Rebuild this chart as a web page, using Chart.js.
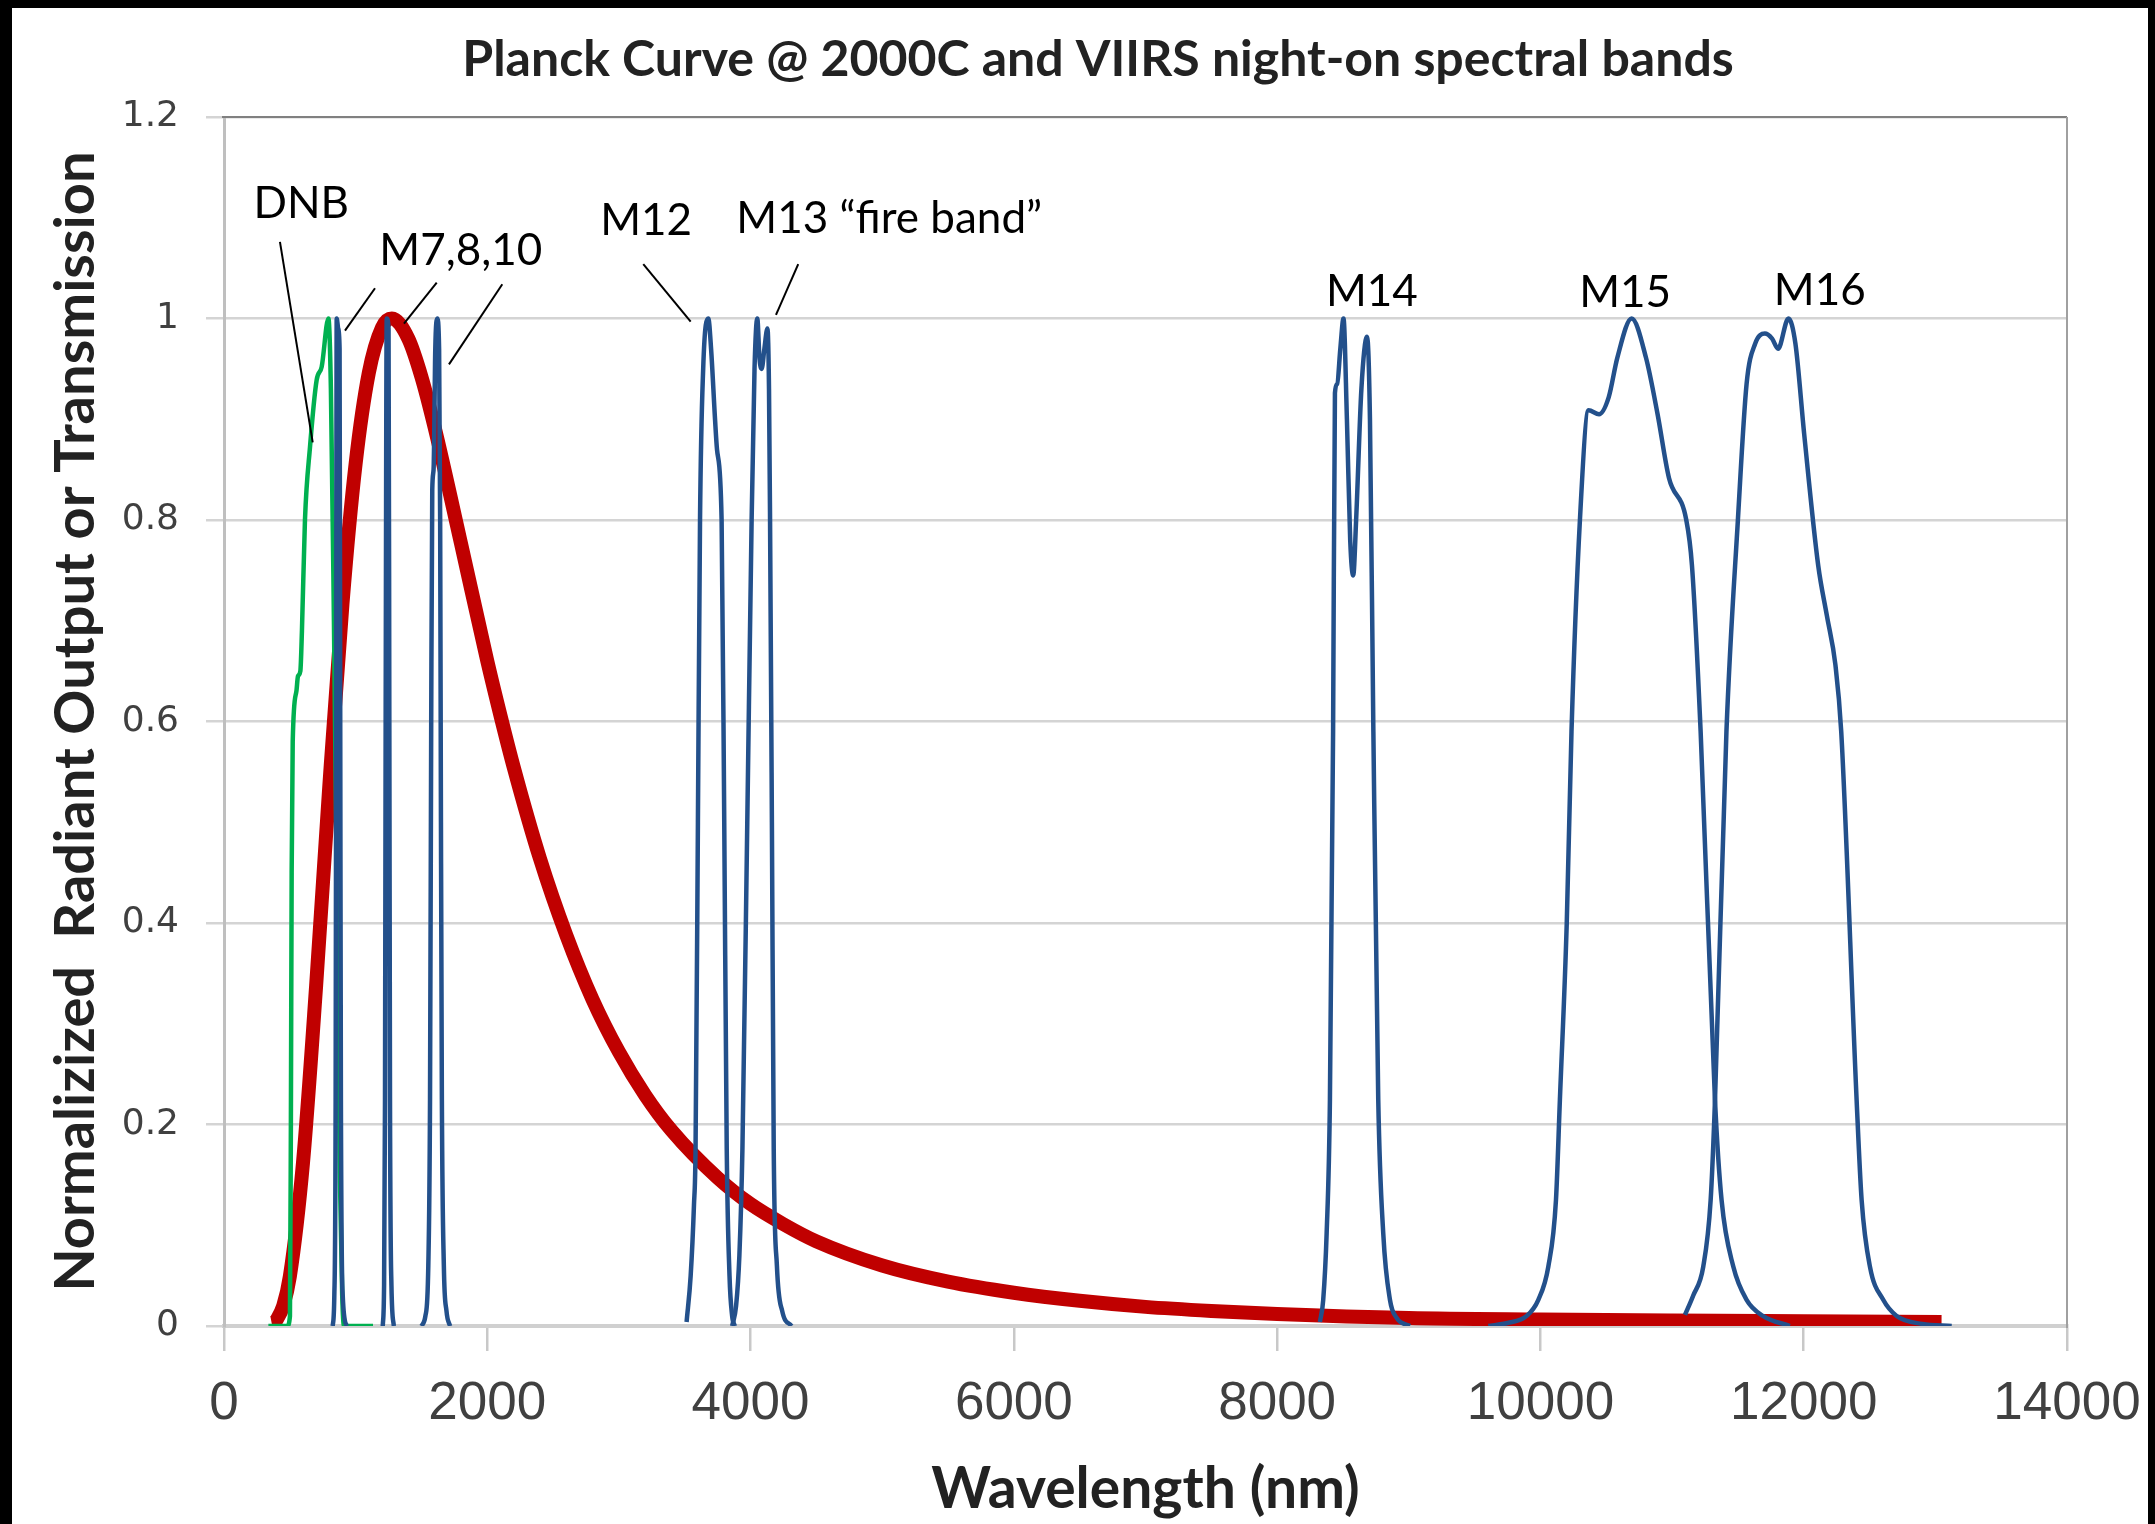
<!DOCTYPE html>
<html lang="en">
  <head>
    <meta charset="UTF-8" />
    <title>Planck Curve @ 2000C and VIIRS night-on spectral bands</title>
    <style>
      html, body { margin: 0; padding: 0; background: #fff; }
    </style>
  </head>
  <body>
    <canvas id="myChart" width="2155" height="1524"></canvas>
    <script src="https://cdn.jsdelivr.net/npm/chart.js"></script>
    <script>
        // values (wavelength in nm, normalized output / transmission)
        const planckWl  = [362, 380, 400, 450, 500, 600, 700, 800, 900, 1000, 1100, 1200, 1275, 1400, 1500, 1600, 1800, 2000, 2100, 2200, 2400, 2600, 2800, 3000, 3200, 3400, 3750, 4000, 4250, 4500, 5000, 5500, 6000, 6500, 7000, 7500, 8000, 9000, 10000, 11000, 12000, 13047];
        const planckVal = [0.003, 0.0035, 0.0063, 0.02, 0.049, 0.162, 0.338, 0.536, 0.717, 0.856, 0.946, 0.991, 1.0, 0.98, 0.942, 0.892, 0.777, 0.66, 0.606, 0.555, 0.464, 0.388, 0.324, 0.272, 0.229, 0.194, 0.147, 0.121, 0.101, 0.084, 0.06, 0.044, 0.033, 0.025, 0.019, 0.015, 0.012, 0.008, 0.0065, 0.0055, 0.0048, 0.004];

        const dnbWl  = [337, 480, 501, 508, 514, 522, 550, 562, 580, 592, 615, 653, 704, 742, 793, 812, 835, 860, 880, 898, 912, 1132];
        const dnbVal = [0, 0, 0.01, 0.2, 0.45, 0.58, 0.63, 0.645, 0.65, 0.69, 0.8, 0.872, 0.939, 0.952, 1.0, 0.93, 0.7, 0.4, 0.15, 0.03, 0, 0];

        const m7Wl  = [826, 838, 848, 852, 856, 868, 878, 883, 888, 902, 932];
        const m7Val = [0, 0.03, 0.225, 0.6, 1.0, 0.99, 0.97, 0.6, 0.225, 0.03, 0];

        const m8Wl  = [1206, 1216, 1223, 1228, 1236, 1250, 1256, 1261, 1272, 1290];
        const m8Val = [0, 0.04, 0.225, 0.6, 1.0, 0.99, 0.6, 0.225, 0.04, 0];

        const m10Wl  = [1500, 1530, 1552, 1565, 1574, 1582, 1592, 1605, 1620, 1634, 1642, 1648, 1655, 1670, 1690, 1717];
        const m10Val = [0, 0.01, 0.06, 0.225, 0.6, 0.83, 0.85, 0.97, 1.0, 0.97, 0.8, 0.5, 0.225, 0.06, 0.015, 0];

        const m12Wl  = [3514, 3545, 3570, 3582, 3600, 3616, 3640, 3679, 3700, 3730, 3745, 3780, 3800, 3819, 3840, 3860, 3880];
        const m12Val = [0.004, 0.05, 0.12, 0.175, 0.5, 0.8, 0.95, 1.0, 0.97, 0.9, 0.87, 0.8, 0.5, 0.175, 0.05, 0.01, 0];

        const m13Wl  = [3860, 3890, 3915, 3938, 3975, 4008, 4030, 4051, 4068, 4084, 4105, 4128, 4140, 4148, 4162, 4176, 4200, 4240, 4311];
        const m13Val = [0, 0.02, 0.07, 0.175, 0.5, 0.8, 0.95, 1.0, 0.96, 0.95, 0.97, 0.99, 0.93, 0.8, 0.5, 0.175, 0.06, 0.015, 0];

        const m14Wl  = [8325, 8350, 8376, 8401, 8425, 8439, 8456, 8480, 8504, 8530, 8555, 8578, 8600, 8640, 8683, 8705, 8731, 8768, 8806, 8857, 8908, 9009];
        const m14Val = [0.004, 0.026, 0.092, 0.225, 0.59, 0.926, 0.935, 0.97, 1.0, 0.9, 0.78, 0.745, 0.8, 0.93, 0.982, 0.9, 0.59, 0.225, 0.092, 0.026, 0.008, 0];

        const m15Wl  = [9604, 9750, 9896, 9984, 10060, 10118, 10148, 10200, 10236, 10300, 10366, 10445, 10519, 10584, 10693, 10802, 10890, 10976, 11108, 11151, 11217, 11326, 11376, 11465, 11566, 11690, 11895];
        const m15Val = [0, 0.003, 0.01, 0.026, 0.059, 0.125, 0.225, 0.4, 0.59, 0.8, 0.909, 0.905, 0.922, 0.961, 1.0, 0.961, 0.905, 0.842, 0.8, 0.755, 0.59, 0.224, 0.125, 0.059, 0.026, 0.01, 0];

        const m16Wl  = [11098, 11160, 11237, 11293, 11326, 11413, 11500, 11566, 11631, 11705, 11760, 11805, 11884, 11937, 12003, 12110, 12176, 12241, 12285, 12402, 12440, 12503, 12604, 12706, 12900, 13124];
        const m16Val = [0.011, 0.03, 0.059, 0.125, 0.224, 0.59, 0.8, 0.935, 0.975, 0.985, 0.98, 0.97, 1.0, 0.975, 0.886, 0.755, 0.705, 0.656, 0.59, 0.224, 0.125, 0.059, 0.026, 0.01, 0.002, 0];

        const xTickLabels = ["0", "2000", "4000", "6000", "8000", "10000", "12000", "14000"];
        const yTickLabels = ["0", "0.2", "0.4", "0.6", "0.8", "1", "1.2"];

        const chartTitle = "Planck Curve @ 2000C and VIIRS night-on spectral bands";

        // band names, placed in data space (x = centre wavelength, y = baseline value)
        const bandLabels = [
            {text: "DNB", x: 587, y: 1.0995},
            {text: "M7,8,10", x: 1799, y: 1.0531},
            {text: "M12", x: 3207, y: 1.0829},
            {text: "M13 \u201cfire band\u201d", x: 5053, y: 1.0846},
            {text: "M14", x: 8720, y: 1.0124},
            {text: "M15", x: 10643, y: 1.0117},
            {text: "M16", x: 12122, y: 1.0134}
        ];
        // leader lines from the names to the curves
        const leaderLines = [
            [425, 1.076, 674, 0.877],
            [1147, 1.030, 919, 0.988],
            [1616, 1.0355, 1367, 0.995],
            [2114, 1.034, 1709, 0.9545],
            [3185, 1.054, 3545, 0.997],
            [4362, 1.054, 4193, 1.0035]
        ];

        const BLUE = "#23508b";
        const RED = "#c00000";
        const GREEN = "#00b050";
        const titleFont = "Lato, 'Open Sans', sans-serif";

        function pts(xs, ys) {
            return xs.map((x, i) => ({x: x, y: ys[i]}));
        }

        function lineSet(label, xs, ys, color, width) {
            return {
                label: label,
                data: pts(xs, ys),
                borderColor: color,
                borderWidth: width,
                pointRadius: 0,
                fill: false,
                cubicInterpolationMode: "monotone",
                borderCapStyle: "butt",
                borderJoinStyle: "round"
            };
        }

        // dataset 0 is drawn on top: blue bands, then green DNB, red Planck curve underneath
        const datasets = [
            lineSet("M7", m7Wl, m7Val, BLUE, 4.5),
            lineSet("M8", m8Wl, m8Val, BLUE, 4.5),
            lineSet("M10", m10Wl, m10Val, BLUE, 4.5),
            lineSet("M12", m12Wl, m12Val, BLUE, 4.5),
            lineSet("M13", m13Wl, m13Val, BLUE, 4.5),
            lineSet("M14", m14Wl, m14Val, BLUE, 4.5),
            lineSet("M15", m15Wl, m15Val, BLUE, 4.5),
            lineSet("M16", m16Wl, m16Val, BLUE, 4.5),
            lineSet("DNB", dnbWl, dnbVal, GREEN, 4.5),
            lineSet("Planck 2000C", planckWl, planckVal, RED, 14)
        ];

        // black edges of the slide, the title, and the top/right plot border
        const frame = {
            id: "frame",
            beforeDraw(chart) {
                const {ctx, width, height} = chart;
                ctx.save();
                ctx.fillStyle = "#ffffff";
                ctx.fillRect(0, 0, width, height);
                ctx.fillStyle = "#000000";
                ctx.fillRect(0, 0, 12, height);
                ctx.fillRect(0, 0, width, 8);
                ctx.fillRect(width - 7, 0, 7, height);
                ctx.restore();
            },
            afterDraw(chart) {
                const {ctx, chartArea: {left, top, right, bottom}} = chart;
                ctx.save();
                ctx.strokeStyle = "#808080";
                ctx.lineWidth = 2;
                ctx.beginPath();
                ctx.moveTo(left - 2, top);
                ctx.lineTo(right, top);
                ctx.stroke();
                ctx.strokeStyle = "#a0a0a0";
                ctx.beginPath();
                ctx.moveTo(right, top);
                ctx.lineTo(right, bottom + 2);
                ctx.stroke();

                ctx.fillStyle = "#222222";
                ctx.font = "bold 50px " + titleFont;
                ctx.textAlign = "center";
                ctx.textBaseline = "middle";
                ctx.fillText(chartTitle, 1098, 60);
                ctx.restore();
            }
        };

        const annotations = {
            id: "annotations",
            afterDatasetsDraw(chart) {
                const {ctx, scales: {x, y}} = chart;
                ctx.save();
                ctx.strokeStyle = "#000000";
                ctx.lineWidth = 2;
                leaderLines.forEach(l => {
                    ctx.beginPath();
                    ctx.moveTo(x.getPixelForValue(l[0]), y.getPixelForValue(l[1]));
                    ctx.lineTo(x.getPixelForValue(l[2]), y.getPixelForValue(l[3]));
                    ctx.stroke();
                });
                ctx.fillStyle = "#000000";
                ctx.font = "44px Lato, 'Open Sans', sans-serif";
                ctx.textAlign = "center";
                ctx.textBaseline = "alphabetic";
                bandLabels.forEach(b => {
                    ctx.fillText(b.text, x.getPixelForValue(b.x), y.getPixelForValue(b.y));
                });
                ctx.restore();
            }
        };

        const config = {
            type: "line",
            data: {datasets: datasets},
            plugins: [frame, annotations],
            options: {
                responsive: false,
                animation: false,
                devicePixelRatio: 1,
                layout: {
                    padding: {left: 0, right: 88, top: 117, bottom: 0}
                },
                plugins: {
                    legend: {display: false},
                    tooltip: {enabled: false},
                    title: {display: false}
                },
                scales: {
                    x: {
                        type: "linear",
                        min: 0,
                        max: 14000,
                        afterFit(scale) {
                            scale.height = 198;
                            // end labels fit inside the layout padding already
                            scale.paddingLeft = 0;
                            scale.paddingRight = 0;
                        },
                        ticks: {
                            stepSize: 2000,
                            color: "#404040",
                            padding: 22,
                            maxRotation: 0,
                            font: {family: "'Liberation Sans', Arial, sans-serif", size: 53},
                            callback: function(value, index) {
                                return xTickLabels[index];
                            }
                        },
                        grid: {
                            drawOnChartArea: false,
                            drawTicks: true,
                            tickLength: 25,
                            color: "#c8c8c8",
                            lineWidth: 2.5
                        },
                        border: {color: "#d0d0d0", width: 4},
                        title: {
                            display: true,
                            text: "Wavelength (nm)",
                            color: "#222222",
                            font: {family: titleFont, size: 57, weight: "bold", lineHeight: 1.2},
                            padding: {top: 0, bottom: 0}
                        }
                    },
                    y: {
                        min: 0,
                        max: 1.2,
                        afterFit(scale) { scale.width = 224; },
                        ticks: {
                            stepSize: 0.2,
                            color: "#404040",
                            padding: 27,
                            font: {family: "'DejaVu Sans', sans-serif", size: 36},
                            callback: function(value, index) {
                                return yTickLabels[index];
                            }
                        },
                        grid: {
                            color: "#d4d4d4",
                            lineWidth: 2.5,
                            tickLength: 18
                        },
                        border: {color: "#bfbfbf", width: 3},
                        title: {
                            display: true,
                            text: "Normalizized  Radiant Output or Transmission",
                            color: "#222222",
                            font: {family: titleFont, size: 56, weight: "bold", lineHeight: 1.2},
                            padding: {top: 42, bottom: 0}
                        }
                    }
                }
            }
        };

        const myChart = new Chart(document.getElementById("myChart"), config);
    </script>
  </body>
</html>
